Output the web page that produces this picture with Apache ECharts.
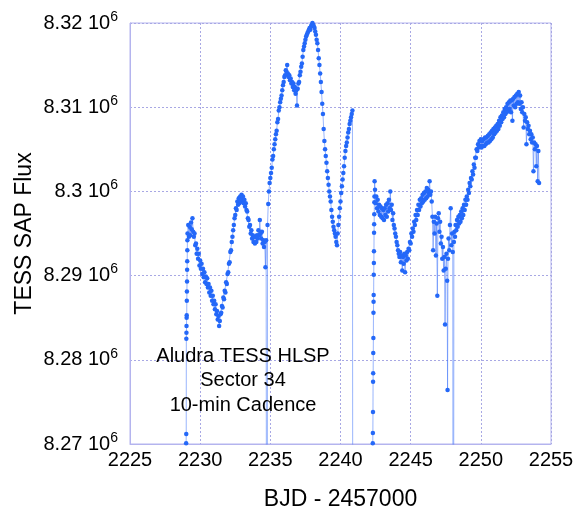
<!DOCTYPE html>
<html>
<head>
<meta charset="utf-8">
<script src="https://cdn.jsdelivr.net/npm/echarts@6/dist/echarts.min.js"></script>
<style>html,body{margin:0;padding:0;background:#fff}#c{width:576px;height:512px}</style>
</head>
<body>
<div id="c"></div>
<script>
// Flux values are in thousands of e-/s (8294.0 = 8.2940 10^6)
const xTicks = [2225, 2230, 2235, 2240, 2245, 2250, 2255];
const yTicks = [8270, 8280, 8290, 8300, 8310, 8320];
const annotation = ['Aludra TESS HLSP', 'Sector 34', '10-min Cadence'];

const rampA = [[2229.00,8270.1],[2229.007,8271.2],[2229.014,8282.5],[2229.021,8283.2],[2229.028,8284.0],[2229.035,8285.0],[2229.042,8285.3],[2229.049,8287.0],[2229.056,8288.1],[2229.063,8289.3],[2229.07,8290.7],[2229.077,8291.7],[2229.084,8293.0],[2229.09,8294.2]];

const orbit1 = [[2229.10,8295.0],[2229.15,8296.0],[2229.20,8294.6],[2229.25,8295.8],[2229.30,8294.8],[2229.35,8296.3],[2229.40,8295.5],[2229.45,8296.8],[2229.50,8295.2],[2229.55,8294.6],[2229.60,8295.0],[2229.65,8293.6],[2229.70,8293.8],[2229.75,8292.6],[2229.80,8293.2],[2229.85,8292.0],[2229.90,8292.6],[2229.95,8291.2],[2230.00,8291.8],[2230.05,8290.8],[2230.10,8291.4],[2230.15,8290.2],[2230.20,8290.8],[2230.25,8289.8],[2230.30,8290.4],[2230.35,8289.2],[2230.40,8289.9],[2230.45,8289.0],[2230.50,8289.7],[2230.55,8288.6],[2230.60,8289.0],[2230.65,8288.0],[2230.70,8288.6],[2230.75,8287.6],[2230.80,8288.2],[2230.85,8287.0],[2230.90,8287.6],[2230.95,8286.6],[2231.00,8287.0],[2231.05,8286.0],[2231.10,8286.6],[2231.15,8285.4],[2231.20,8285.8],[2231.25,8284.8],[2231.30,8285.2],[2231.35,8284.0],[2231.40,8284.6],[2231.45,8285.4],[2231.50,8285.6],[2231.55,8286.4],[2231.60,8286.2],[2231.65,8287.4],[2231.70,8287.2],[2231.75,8288.2],[2231.80,8288.0],[2231.85,8289.2],[2231.90,8289.0],[2231.95,8290.2],[2232.00,8290.4],[2232.05,8291.4],[2232.10,8291.6],[2232.15,8292.8],[2232.20,8293.0],[2232.25,8294.0],[2232.30,8294.6],[2232.35,8295.4],[2232.40,8296.0],[2232.45,8296.8],[2232.50,8297.2],[2232.55,8298.0],[2232.60,8297.8],[2232.65,8298.8],[2232.70,8298.4],[2232.75,8299.2],[2232.80,8298.6],[2232.85,8299.4],[2232.90,8298.8],[2232.95,8299.6],[2233.00,8299.0],[2233.05,8299.4],[2233.10,8298.6],[2233.15,8299.0],[2233.20,8298.2],[2233.25,8298.6],[2233.30,8297.8],[2233.35,8297.6],[2233.40,8296.8],[2233.45,8296.6],[2233.50,8295.8],[2233.55,8296.0],[2233.60,8295.0],[2233.65,8295.4],[2233.70,8294.4],[2233.75,8294.8],[2233.80,8294.0],[2233.85,8294.6],[2233.90,8293.8],[2233.95,8294.6],[2234.00,8294.0],[2234.05,8294.8],[2234.10,8294.4],[2234.15,8295.4],[2234.20,8294.8],[2234.25,8296.6],[2234.30,8295.0],[2234.35,8294.4],[2234.40,8295.2],[2234.45,8293.8],[2234.50,8294.2],[2234.55,8293.4],[2234.60,8294.0],[2234.65,8291.0],[2234.70,8294.2],[2234.76,8200.0],[2234.80,8296.0],[2234.85,8298.5],[2234.90,8300.0],[2234.95,8301.0],[2235.00,8301.6],[2235.05,8302.2],[2235.10,8302.8],[2235.15,8303.8],[2235.20,8304.2],[2235.25,8305.0],[2235.30,8305.6],[2235.35,8306.2],[2235.40,8306.8],[2235.45,8307.2],[2235.50,8308.2],[2235.55,8308.6],[2235.60,8309.6],[2235.65,8310.0],[2235.70,8310.6],[2235.75,8311.0],[2235.80,8311.4],[2235.85,8312.0],[2235.90,8312.6],[2235.95,8313.0],[2236.00,8313.6],[2236.05,8313.8],[2236.10,8314.4],[2236.15,8314.2],[2236.20,8315.0],[2236.25,8314.0],[2236.30,8313.6],[2236.35,8313.8],[2236.40,8313.2],[2236.45,8313.4],[2236.50,8312.8],[2236.55,8313.0],[2236.60,8312.4],[2236.65,8312.8],[2236.70,8312.0],[2236.75,8312.4],[2236.80,8311.6],[2236.85,8312.0],[2236.90,8310.2],[2236.95,8312.2],[2237.00,8312.8],[2237.05,8313.0],[2237.10,8313.8],[2237.15,8314.2],[2237.20,8314.8],[2237.25,8315.2],[2237.30,8316.0],[2237.35,8316.8],[2237.40,8317.2],[2237.45,8317.6],[2237.50,8318.0],[2237.55,8318.4],[2237.60,8318.6],[2237.65,8318.8],[2237.70,8319.0],[2237.75,8319.2],[2237.80,8319.4],[2237.85,8319.2],[2237.90,8319.6],[2237.95,8319.8],[2238.00,8320.0],[2238.05,8319.8],[2238.10,8319.6],[2238.15,8319.4],[2238.20,8319.0],[2238.25,8318.6],[2238.30,8318.0],[2238.35,8317.6],[2238.40,8316.8],[2238.45,8315.8],[2238.50,8315.0],[2238.55,8314.0],[2238.60,8313.0],[2238.65,8311.8],[2238.70,8310.4],[2238.75,8309.2],[2238.80,8307.4],[2238.85,8306.0],[2238.90,8305.0],[2238.95,8304.2],[2239.00,8303.4],[2239.05,8302.4],[2239.10,8301.6],[2239.15,8300.8],[2239.20,8300.0],[2239.25,8299.4],[2239.30,8298.8],[2239.35,8297.8],[2239.40,8297.0],[2239.45,8296.4],[2239.50,8295.8],[2239.55,8295.4],[2239.60,8295.0],[2239.65,8294.6],[2239.70,8294.0],[2239.75,8293.6],[2239.80,8295.0],[2239.85,8296.0],[2239.90,8297.0],[2239.95,8298.0],[2240.00,8298.8],[2240.05,8299.8],[2240.10,8300.6],[2240.15,8301.4],[2240.20,8302.2],[2240.25,8303.0],[2240.30,8304.0],[2240.35,8304.8],[2240.40,8305.4],[2240.45,8305.8],[2240.50,8306.4],[2240.55,8307.0],[2240.60,8307.4],[2240.65,8308.0],[2240.70,8308.4],[2240.75,8308.8],[2240.80,8309.2],[2240.85,8309.6],[2240.90,8200.0]];

const rampB = [[2242.30,8270.1],[2242.307,8271.3],[2242.314,8273.8],[2242.321,8277.4],[2242.328,8278.4],[2242.335,8280.8],[2242.342,8282.6],[2242.349,8285.6],[2242.356,8286.9],[2242.363,8287.7],[2242.37,8290.1],[2242.377,8291.5],[2242.384,8292.9],[2242.391,8295.1],[2242.398,8296.1],[2242.405,8297.3],[2242.412,8298.7],[2242.419,8299.4],[2242.43,8301.2]];

const orbit2 = [[2242.46,8300.2],[2242.50,8298.6],[2242.55,8299.4],[2242.60,8298.0],[2242.65,8299.0],[2242.70,8297.6],[2242.75,8298.4],[2242.80,8297.2],[2242.85,8298.2],[2242.90,8297.0],[2242.95,8298.0],[2243.00,8296.8],[2243.05,8297.8],[2243.10,8296.6],[2243.15,8298.0],[2243.20,8297.2],[2243.25,8298.4],[2243.30,8297.0],[2243.35,8298.6],[2243.40,8297.6],[2243.45,8299.0],[2243.50,8298.0],[2243.55,8300.0],[2243.60,8297.8],[2243.65,8298.4],[2243.70,8296.6],[2243.75,8297.4],[2243.80,8296.0],[2243.85,8295.6],[2243.90,8295.0],[2243.95,8294.6],[2244.00,8294.0],[2244.05,8293.6],[2244.10,8293.0],[2244.15,8292.6],[2244.20,8292.2],[2244.25,8292.8],[2244.30,8291.6],[2244.35,8292.4],[2244.40,8290.6],[2244.45,8292.2],[2244.50,8291.4],[2244.55,8292.6],[2244.60,8290.4],[2244.65,8292.4],[2244.70,8291.8],[2244.75,8292.8],[2244.80,8292.0],[2244.85,8293.2],[2244.90,8293.0],[2244.95,8294.0],[2245.00,8293.8],[2245.05,8295.0],[2245.10,8294.6],[2245.15,8295.6],[2245.20,8295.2],[2245.25,8296.4],[2245.30,8296.0],[2245.35,8297.2],[2245.40,8296.6],[2245.45,8297.8],[2245.50,8297.2],[2245.55,8298.4],[2245.60,8297.8],[2245.65,8299.0],[2245.70,8298.2],[2245.75,8299.2],[2245.80,8298.6],[2245.85,8299.6],[2245.90,8298.8],[2245.95,8299.8],[2246.00,8299.0],[2246.05,8300.0],[2246.10,8299.2],[2246.15,8300.4],[2246.20,8299.4],[2246.25,8300.2],[2246.30,8299.8],[2246.35,8301.2],[2246.40,8299.6],[2246.45,8300.0],[2246.50,8298.8],[2246.55,8297.0],[2246.60,8293.0],[2246.65,8296.4],[2246.70,8295.0],[2246.75,8297.0],[2246.80,8292.4],[2246.85,8296.2],[2246.90,8287.6],[2246.95,8296.8],[2247.00,8297.4],[2247.05,8295.2],[2247.10,8296.4],[2247.15,8293.8],[2247.20,8294.6],[2247.25,8292.0],[2247.30,8293.4],[2247.35,8290.6],[2247.40,8292.2],[2247.45,8284.2],[2247.50,8290.8],[2247.55,8292.6],[2247.60,8289.4],[2247.63,8276.4],[2247.66,8292.0],[2247.70,8294.4],[2247.75,8293.0],[2247.80,8296.0],[2247.85,8298.0],[2247.90,8293.6],[2247.95,8295.0],[2248.00,8292.8],[2248.04,8200.0],[2248.08,8294.0],[2248.12,8295.2],[2248.16,8294.6],[2248.20,8296.0],[2248.25,8295.4],[2248.30,8296.6],[2248.35,8295.8],[2248.40,8297.0],[2248.45,8296.2],[2248.50,8297.2],[2248.55,8296.4],[2248.60,8297.6],[2248.65,8296.8],[2248.70,8298.0],[2248.75,8297.2],[2248.80,8298.4],[2248.85,8297.8],[2248.90,8299.0],[2248.95,8298.4],[2249.00,8299.4],[2249.05,8299.0],[2249.10,8300.2],[2249.15,8299.8],[2249.20,8301.0],[2249.25,8300.6],[2249.30,8301.6],[2249.35,8301.4],[2249.40,8302.4],[2249.45,8302.0],[2249.50,8303.2],[2249.55,8302.8],[2249.60,8304.0],[2249.65,8304.0],[2249.70,8305.0],[2249.75,8304.8],[2249.80,8305.6],[2249.85,8305.2],[2249.90,8306.0],[2249.95,8305.4],[2250.00,8306.2],[2250.05,8305.2],[2250.10,8306.0],[2250.15,8305.4],[2250.20,8306.2],[2250.25,8305.4],[2250.30,8306.4],[2250.35,8305.6],[2250.40,8306.4],[2250.45,8305.8],[2250.50,8306.6],[2250.55,8305.8],[2250.60,8306.8],[2250.65,8306.0],[2250.70,8307.0],[2250.75,8306.2],[2250.80,8307.2],[2250.85,8306.4],[2250.90,8307.4],[2250.95,8306.8],[2251.00,8307.6],[2251.05,8307.0],[2251.10,8307.8],[2251.15,8307.2],[2251.20,8308.0],[2251.25,8307.4],[2251.30,8308.4],[2251.35,8307.8],[2251.40,8308.8],[2251.45,8308.2],[2251.50,8309.0],[2251.55,8308.6],[2251.60,8309.4],[2251.65,8308.8],[2251.70,8309.8],[2251.75,8309.2],[2251.80,8310.0],[2251.85,8309.4],[2251.90,8310.4],[2251.95,8309.6],[2252.00,8310.6],[2252.05,8309.8],[2252.10,8310.8],[2252.15,8309.4],[2252.20,8310.8],[2252.25,8308.4],[2252.30,8311.0],[2252.35,8310.2],[2252.40,8311.2],[2252.45,8310.0],[2252.50,8311.4],[2252.55,8310.4],[2252.60,8311.6],[2252.65,8310.6],[2252.70,8311.8],[2252.75,8310.4],[2252.80,8311.4],[2252.85,8309.8],[2252.90,8310.6],[2252.95,8309.4],[2253.00,8310.0],[2253.05,8307.6],[2253.10,8309.2],[2253.15,8308.4],[2253.20,8308.8],[2253.25,8305.6],[2253.30,8308.2],[2253.35,8307.4],[2253.40,8307.8],[2253.45,8306.8],[2253.50,8307.2],[2253.55,8306.2],[2253.60,8306.8],[2253.65,8305.8],[2253.70,8306.4],[2253.75,8302.4],[2253.80,8305.8],[2253.85,8305.0],[2253.90,8305.6],[2253.95,8303.0],[2254.00,8305.4],[2254.05,8301.2],[2254.10,8304.8],[2254.15,8301.0]];

const FONT = '"Liberation Sans", Arial, sans-serif';
const allData = rampA.concat(orbit1, rampB, orbit2);

const chart = echarts.init(document.getElementById('c'), null, {renderer: 'canvas'});
chart.setOption({
  animation: false,
  backgroundColor: '#fff',
  grid: {left: 130, right: 25, top: 23, bottom: 68, outerBoundsMode: 'none', containLabel: false, show: true, borderColor: '#b4b4ee', borderWidth: 1, backgroundColor: 'transparent'},
  xAxis: {
    type: 'value', min: xTicks[0], max: xTicks[xTicks.length - 1], interval: 5,
    name: 'BJD - 2457000', nameLocation: 'middle', nameGap: 44, nameMoveOverlap: false,
    nameTextStyle: {fontSize: 23, color: '#000', fontFamily: FONT},
    axisLine: {show: true, lineStyle: {color: '#b4b4ee', width: 1}},
    axisTick: {show: false},
    axisLabel: {fontSize: 20, color: '#000', fontFamily: FONT, margin: 6, formatter: v => String(v)},
    splitLine: {show: true, lineStyle: {color: '#a8a8e4', type: [2, 2], width: 1}}
  },
  yAxis: {
    type: 'value', min: yTicks[0], max: yTicks[yTicks.length - 1], interval: 10,
    name: 'TESS SAP Flux', nameLocation: 'middle', nameGap: 94, nameRotate: 90, nameMoveOverlap: false,
    nameTextStyle: {fontSize: 23, color: '#000', fontFamily: FONT},
    axisLine: {show: true, lineStyle: {color: '#b4b4ee', width: 1}},
    axisTick: {show: false},
    axisLabel: {
      margin: 12, fontFamily: FONT,
      formatter: v => '{m|' + parseFloat((v / 1000).toFixed(2)) + ' 10}{s|6}',
      rich: {
        m: {fontSize: 20, color: '#000', fontFamily: FONT, lineHeight: 26},
        s: {fontSize: 14, color: '#000', fontFamily: FONT, lineHeight: 14, verticalAlign: 'top'}
      }
    },
    splitLine: {show: true, lineStyle: {color: '#a8a8e4', type: [2, 2], width: 1}}
  },
  graphic: annotation.map((t, i) => ({
    type: 'text', x: 243, y: 356 + i * 24.5, z: 10,
    style: {text: t, align: 'center', verticalAlign: 'middle', fontSize: 20, fill: '#000', fontFamily: FONT}
  })),
  series: [{
    type: 'line',
    data: allData,
    showSymbol: true,
    showAllSymbol: true,
    symbol: 'circle',
    symbolSize: 4.5,
    itemStyle: {color: '#2468f8', borderWidth: 0},
    lineStyle: {color: 'rgba(70,120,250,0.55)', width: 1},
    clip: true,
    emphasis: {disabled: true}
  }]
});
</script>
</body>
</html>
